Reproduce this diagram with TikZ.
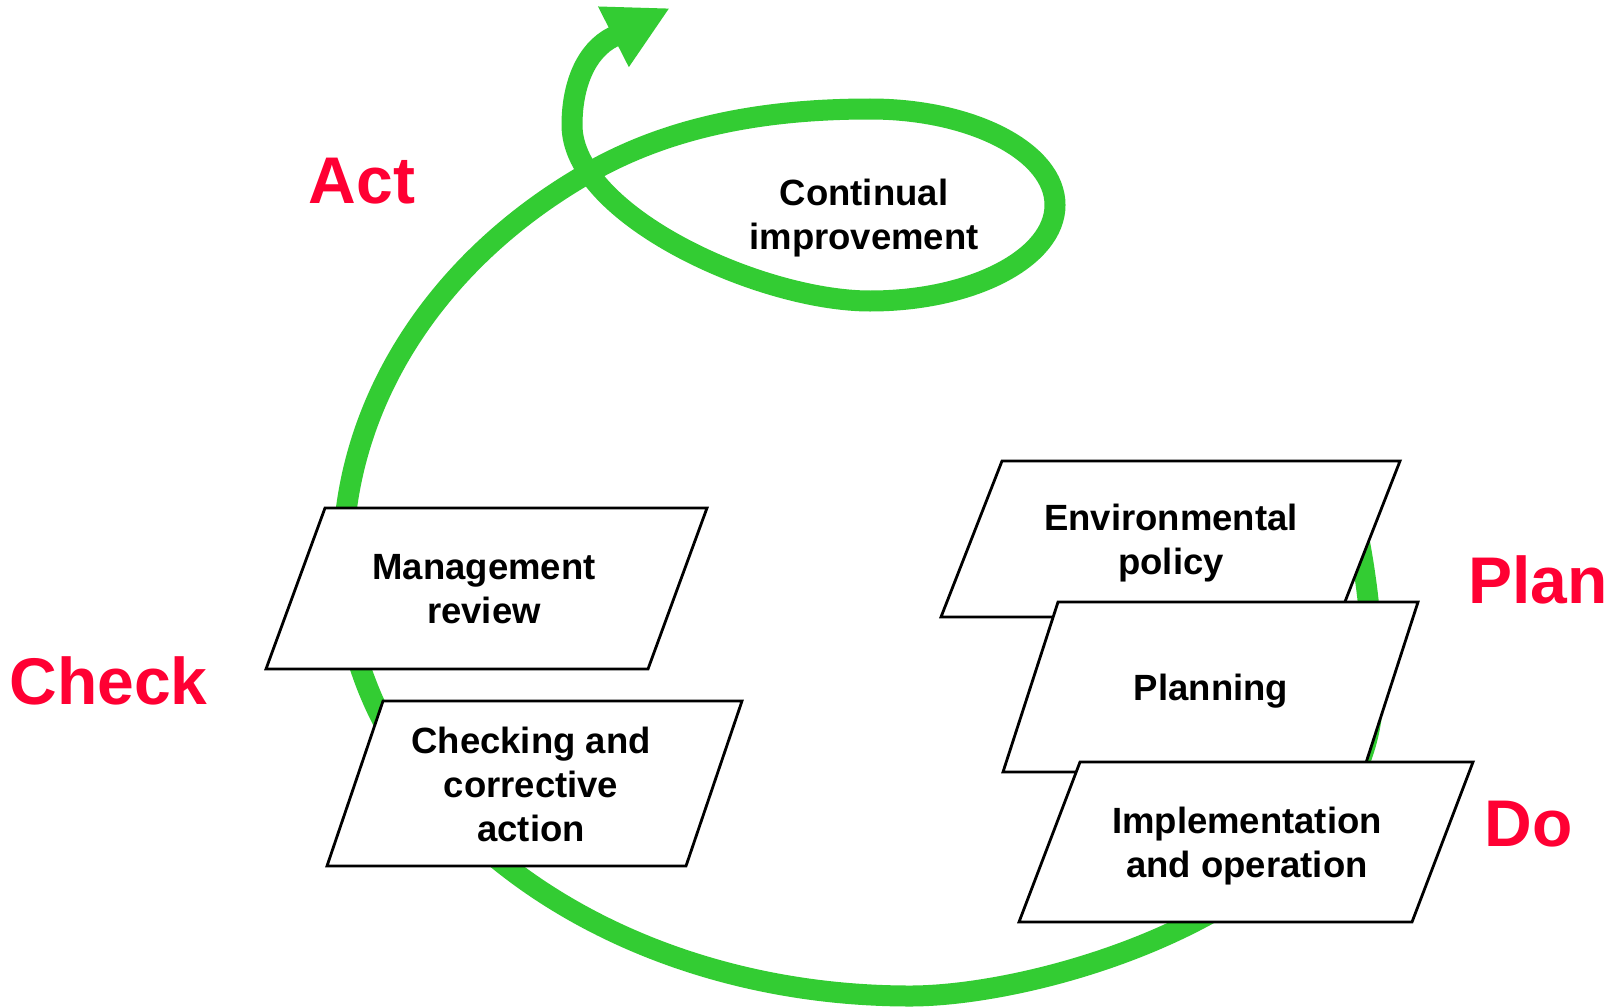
\documentclass[tikz,border=0pt]{standalone}
\usepackage{fontspec}
\setmainfont{Liberation Sans}
\usetikzlibrary{arrows.meta}
\definecolor{cyclegreen}{RGB}{51,204,51}
\definecolor{phasered}{RGB}{255,0,51}
\tikzset{
  spiral/.style={draw=cyclegreen,line width=10.5pt,-{Triangle[length=31.75pt,width=31.5pt]}},
  box/.style={draw=black,fill=white,line width=1.4pt,line join=miter},
  boxtext/.style={inner sep=0pt,align=center,font=\fontsize{18.25pt}{22pt}\selectfont\bfseries},
  phase/.style={inner sep=0pt,anchor=base,text=phasered,font=\fontsize{33pt}{40pt}\selectfont\bfseries}
}
\begin{document}
\begin{tikzpicture}
  [x=0.5pt,y=-0.5pt]
  \useasboundingbox (0,0) rectangle (1620,1006);
  \fill[white] (0,0) rectangle (1620,1006);

  \draw[spiral] (1352.8,510.5)
    arc[start angle=-17,end angle=0,x radius=463,y radius=614]
    .. controls (1373,900) and (1050,996) .. (910,996)
    arc[start angle=90,end angle=180,x radius=567,y radius=436]
    arc[start angle=180,end angle=235.7,x radius=567,y radius=470]
    .. controls (668,128) and (760,109) .. (870,109)
    arc[start angle=-90,end angle=90,x radius=185,y radius=96]
    .. controls (760,301) and (572,215) .. (572,125)
    .. controls (572,85) and (586,50.5) .. (613,37)
    -- (670,8);

  \foreach \x/\y/\w/\s/\h in {325/508/382/59/161,383/701/359/56/165,
    1002/461/398/61/156,1058/602/360/55/170,1080/762/393/61/160}
    \filldraw[box] (\x,\y) -- ++(\w,0) -- ++(-\s,\h) -- ++(-\w,0) -- cycle;

  \node[boxtext] (improve) at (864,217.6) {Continual\\improvement};
  \node[boxtext] (review) at (484,589) {Management\\review};
  \node[boxtext] (corrective) at (531,784) {Checking and\\corrective\\action};
  \node[boxtext] (policy) at (1171,542.7) {Environmental\\policy};
  \node[boxtext,anchor=base] (planning) at (1211,700) {Planning};
  \node[boxtext] (operation) at (1247,845.7) {Implementation\\and operation};

  \node[phase] (act) at (362,203) {Act};
  \node[phase] (check) at (108.5,704.6) {Check};
  \node[phase] (plan) at (1538,603) {Plan};
  \node[phase] (do) at (1528.5,846) {Do};
\end{tikzpicture}
\end{document}
